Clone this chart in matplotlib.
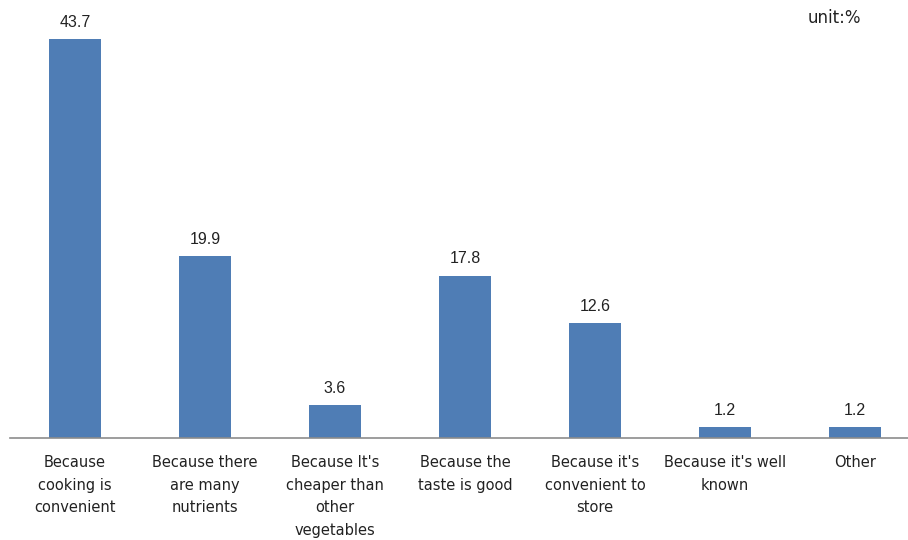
import numpy as np
import matplotlib
matplotlib.use("Agg")
from matplotlib import pyplot as plt

categories = [
    "Because\ncooking is\nconvenient",
    "Because there\nare many\nnutrients",
    "Because It's\ncheaper than\nother\nvegetables",
    "Because the\ntaste is good",
    "Because it's\nconvenient to\nstore",
    "Because it's well\nknown",
    "Other",
]
values = [43.7, 19.9, 3.6, 17.8, 12.6, 1.2, 1.2]

bar_color = "#4F7DB5"
text_color = "#222222"

fig = plt.figure(figsize=(9.08, 5.40), dpi=100)
ax = fig.add_axes([10 / 908, 102 / 540, 898 / 908, 438 / 540])

x = np.arange(len(values))
ax.bar(x, values, width=0.4, color=bar_color)

# value labels above the bars
for xi, v in zip(x, values):
    ax.text(xi, v + 1.0, f"{v:.1f}", ha="center", va="bottom",
            fontsize=11.5, color=text_color, family="Liberation Sans")

# category labels under the baseline
for xi, lab in zip(x, categories):
    ax.text(xi, -1.9, lab, ha="center", va="top", fontsize=10.5,
            color=text_color, linespacing=1.62, family="DejaVu Sans")

ax.set_xlim(-0.5, 6.5 - 12 / 130)
ax.set_ylim(0, 48)
for side in ["top", "right", "left"]:
    ax.spines[side].set_visible(False)
ax.spines["bottom"].set_color("#8c8c8c")
ax.spines["bottom"].set_linewidth(1.2)
ax.set_xticks([])
ax.set_yticks([])

fig.text(808 / 908, 1 - 18 / 540, "unit:%", ha="left", va="center",
         fontsize=12, color=text_color, family="DejaVu Sans")

fig.savefig("out.png", dpi=100)
